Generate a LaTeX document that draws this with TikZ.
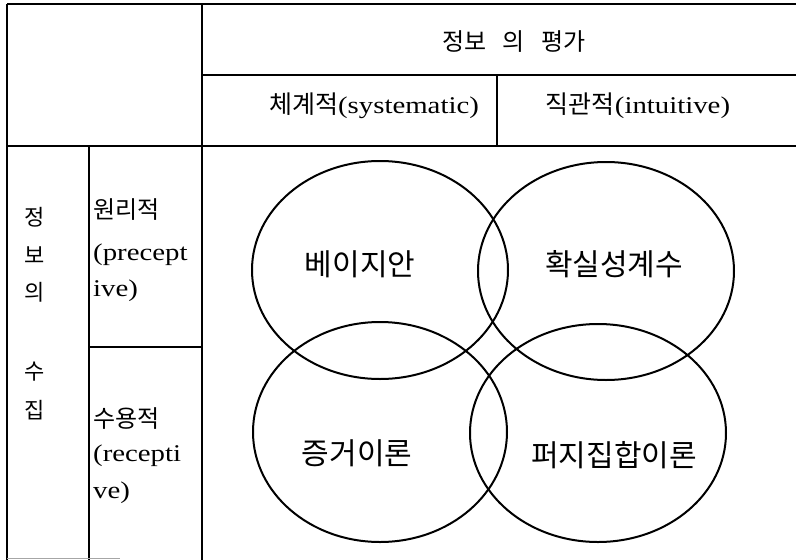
\documentclass[tikz,border=0pt]{standalone}
\usepackage{fontspec}
\setmainfont[FakeStretch=1.2]{Liberation Serif}
\newfontfamily\kr{Noto Sans CJK KR}
\begin{document}
\begin{tikzpicture}[x=1pt,y=-1pt,
  rule/.style={line width=1.5pt,black},
  oval/.style={line width=2pt,black},
  hdr/.style={inner sep=0pt,font=\fontsize{24}{28}\selectfont},
  side/.style={inner sep=0pt,font=\kr\fontsize{22}{26}\selectfont},
  cell/.style={inner sep=0pt,anchor=west,font=\fontsize{24}{28}\selectfont},
  lab/.style={inner sep=0pt,font=\kr\fontsize{30}{34}\selectfont}]
\useasboundingbox (0,0) rectangle (796,560);
% table rules
\draw[rule] (7,4) -- (796,4);
\draw[rule] (7,4) -- (7,560);
\draw[rule] (202,4) -- (202,560);
\draw[rule] (202,75) -- (796,75);
\draw[rule] (497,75) -- (497,146);
\draw[rule] (7,146) -- (796,146);
\draw[rule] (89,146) -- (89,560);
\draw[rule] (89,347) -- (202,347);
\draw[line width=1pt,black!35] (7,558) -- (120,558);
% header texts
\node[hdr] (eval) at (514,42) {\kr 정보\hspace{16pt}의\hspace{16pt}평가};
\node[hdr] (sys) at (374,106) {{\kr\fontsize{25}{28}\selectfont 체계적}(systematic)};
\node[hdr] (int) at (638,106) {{\kr\fontsize{25}{28}\selectfont 직관적}(intuitive)};
% left column
\node[side] (c1) at (35,217) {정};
\node[side] (c2) at (35,255) {보};
\node[side] (c3) at (35,292) {의};
\node[side] (c4) at (35,372) {수};
\node[side] (c5) at (35,410) {집};
% middle column
\node[cell] (p1) at (93,210) {\kr 원리적};
\node[cell] (p2) at (93,255) {(precept};
\node[cell] (p3) at (93,291) {ive)};
\node[cell] (r1) at (93,419) {\kr 수용적};
\node[cell] (r2) at (93,456) {(recepti};
\node[cell] (r3) at (93,493) {ve)};
% ellipses
\draw[oval] (380,270) ellipse [x radius=128, y radius=109];
\draw[oval] (606,271) ellipse [x radius=128, y radius=109];
\draw[oval] (380,432) ellipse [x radius=127, y radius=110];
\draw[oval] (598,433) ellipse [x radius=128, y radius=109];
% ellipse labels
\node[lab] (bay) at (360,264) {베이지안};
\node[lab] (cf) at (614,264) {확실성계수};
\node[lab] (ev) at (357,453) {증거이론};
\node[lab] (fz) at (614,455) {퍼지집합이론};
\end{tikzpicture}
\end{document}
